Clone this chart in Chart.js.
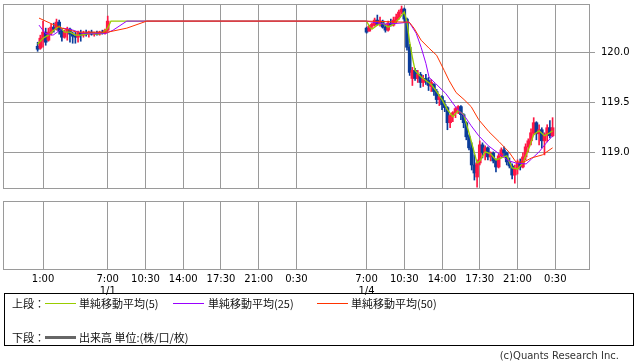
<!DOCTYPE html>
<html><head><meta charset="utf-8">
<script src="https://cdn.jsdelivr.net/npm/chart.js@4"></script>
<style>
html,body{margin:0;padding:0;background:#fff;width:638px;height:362px;overflow:hidden;position:relative;font-family:"DejaVu Sans",sans-serif;}
canvas{position:absolute;left:0;}
#c1{top:0;}
#c2{top:195px;}
#legend{position:absolute;left:4px;top:293px;width:630px;height:53px;border:1px solid #000;box-sizing:border-box;font-family:"Noto Sans CJK JP",sans-serif;font-size:11px;color:#111;}
#legend span{position:absolute;white-space:nowrap;line-height:14px;}
#legend i{position:absolute;display:block;}
#copy{position:absolute;right:19px;top:350px;font-family:"DejaVu Sans",sans-serif;font-size:10px;color:#333;}
</style></head>
<body>
<canvas id="c1" width="638" height="192"></canvas>
<canvas id="c2" width="638" height="110"></canvas>
<div id="legend">
  <span style="left:7px;top:2px">上段：</span>
  <i style="left:40px;top:9px;width:31px;height:1px;background:#99cc00"></i>
  <span style="left:74px;top:2px">単純移動平均(5)</span>
  <i style="left:168px;top:9px;width:31px;height:1px;background:#9900ff"></i>
  <span style="left:203px;top:2px">単純移動平均(25)</span>
  <i style="left:312px;top:9px;width:31px;height:1px;background:#ff3300"></i>
  <span style="left:346px;top:2px">単純移動平均(50)</span>
  <span style="left:7px;top:36px">下段：</span>
  <i style="left:40px;top:42px;width:31px;height:3px;background:#666"></i>
  <span style="left:74px;top:36px">出来高 単位:(株/口/枚)</span>
</div>
<div id="copy">(c)Quants Research Inc.</div>
<script>
// ---- tick data ----
const tickPos = [0, 6, 9.5, 13, 16.5, 20, 23.5, 30, 33.5, 37, 40.5, 44, 47.5];
const tickLabels = ["1:00", ["7:00","1/1"], "10:30", "14:00", "17:30", "21:00", "0:30", ["7:00","1/4"], "10:30", "14:00", "17:30", "21:00", "0:30"];
const priceTicks = [119.0, 119.5, 120.0];

// ---- 15-minute bars (time in hours from 1/1 1:00 on the compressed axis) ----
const barTime = [-0.5,-0.25,0,0.25,0.5,0.75,1,1.25,1.5,1.75,2,2.25,2.5,2.75,3,3.25,3.5,3.75,4,4.25,4.5,4.75,5,5.25,5.5,5.75,6,
  30,30.25,30.5,30.75,31,31.25,31.5,31.75,32,32.25,32.5,32.75,33,33.25,33.5,33.75,34,34.25,34.5,34.75,35,35.25,35.5,35.75,
  36,36.25,36.5,36.75,37,37.25,37.5,37.75,38,38.25,38.5,38.75,39,39.25,39.5,39.75,40,40.25,40.5,40.75,41,41.25,41.5,41.75,
  42,42.25,42.5,42.75,43,43.25,43.5,43.75,44,44.25,44.5,44.75,45,45.25,45.5,45.75,46,46.25,46.5,46.75,47,47.25];
const openP = [120.06,120.04,120.12,120.20,120.12,120.19,120.25,120.23,120.30,120.21,120.15,120.20,120.23,120.18,120.16,120.15,120.19,120.17,120.19,120.18,120.20,120.18,120.19,120.18,120.20,120.19,120.22,
  120.24,120.21,120.26,120.27,120.32,120.28,120.31,120.25,120.22,120.29,120.27,120.31,120.35,120.40,120.43,120.33,120.05,119.74,119.82,119.74,119.78,119.70,119.74,119.72,
  119.66,119.68,119.61,119.53,119.56,119.48,119.45,119.30,119.37,119.40,119.44,119.46,119.38,119.30,119.16,119.05,118.88,118.76,118.90,119.08,119.00,119.05,118.96,119.00,
  118.92,118.86,118.97,119.03,119.00,118.91,118.87,118.78,118.84,118.90,118.86,118.96,119.06,119.12,119.20,119.30,119.19,119.23,119.12,119.18,119.25,119.17];
const highP = [120.10,120.17,120.31,120.24,120.24,120.28,120.29,120.33,120.32,120.23,120.22,120.25,120.24,120.20,120.20,120.21,120.22,120.21,120.22,120.21,120.22,120.20,120.21,120.21,120.22,120.23,120.36,
  120.25,120.27,120.29,120.34,120.37,120.35,120.32,120.28,120.31,120.33,120.35,120.38,120.42,120.46,120.44,120.34,120.08,119.85,119.84,119.82,119.80,119.77,119.78,119.75,
  119.73,119.69,119.63,119.58,119.57,119.52,119.46,119.38,119.41,119.45,119.47,119.47,119.39,119.31,119.18,119.10,118.98,118.93,119.12,119.10,119.07,119.06,119.01,119.01,
  118.94,118.99,119.05,119.06,119.01,118.95,118.89,118.88,118.93,118.94,119.00,119.09,119.14,119.24,119.35,119.31,119.28,119.25,119.20,119.28,119.32,119.35];
const lowP = [120.01,120.03,120.05,120.07,120.11,120.17,120.20,120.22,120.18,120.11,120.14,120.12,120.10,120.09,120.09,120.10,120.11,120.15,120.16,120.15,120.17,120.16,120.17,120.17,120.18,120.18,120.21,
  120.19,120.21,120.24,120.26,120.27,120.26,120.24,120.20,120.21,120.26,120.26,120.29,120.33,120.38,120.30,120.02,119.77,119.67,119.72,119.70,119.65,119.66,119.68,119.62,
  119.61,119.57,119.49,119.47,119.43,119.41,119.23,119.25,119.31,119.35,119.39,119.33,119.25,119.13,119.03,118.83,118.73,118.66,118.88,118.95,118.93,118.93,118.92,118.90,
  118.81,118.85,118.95,118.97,118.88,118.85,118.74,118.70,118.79,118.83,118.85,118.93,119.01,119.08,119.18,119.13,119.08,119.05,118.98,119.11,119.15,119.16];
const closeP = [120.03,120.14,120.20,120.10,120.20,120.25,120.23,120.30,120.21,120.15,120.20,120.23,120.18,120.16,120.15,120.19,120.17,120.19,120.18,120.20,120.18,120.19,120.18,120.20,120.19,120.22,120.31,
  120.20,120.26,120.28,120.32,120.28,120.31,120.25,120.22,120.29,120.27,120.32,120.35,120.40,120.43,120.33,120.05,119.80,119.82,119.74,119.78,119.70,119.74,119.72,119.67,
  119.70,119.61,119.53,119.56,119.48,119.45,119.30,119.37,119.40,119.44,119.46,119.38,119.30,119.16,119.05,118.88,118.80,118.90,119.08,119.00,119.05,118.96,119.00,118.92,
  118.86,118.97,119.03,119.00,118.91,118.87,118.78,118.84,118.90,118.86,118.96,119.06,119.12,119.20,119.30,119.19,119.23,119.12,119.18,119.25,119.17,119.25];

// ---- moving averages ----
const ma5Time = [-0.5,0,0.5,1,1.5,2,2.5,3,3.5,4,4.5,5,5.5,6,6.3,30,30.3,30.5,31,31.5,32,32.5,33,33.5,33.75,34,34.25,34.5,35,35.5,36,36.5,37,37.5,38,38.5,39,39.5,40,40.25,40.5,41,41.5,42,42.5,43,43.5,44,44.5,45,45.5,46,46.5,47,47.25];
const ma5Val = [120.08,120.14,120.17,120.22,120.26,120.20,120.20,120.17,120.17,120.18,120.19,120.18,120.19,120.24,120.31,120.31,120.25,120.23,120.27,120.29,120.25,120.28,120.33,120.40,120.30,120.10,119.95,119.82,119.76,119.72,119.68,119.61,119.53,119.43,119.36,119.42,119.38,119.20,119.00,118.90,118.92,119.01,118.99,118.93,118.95,118.97,118.85,118.84,118.90,119.03,119.18,119.22,119.17,119.20,119.22];
const ma25Time = [-0.37,0.19,0.93,1.85,2.78,3.6,5.9,6.5,7.77,30,31.7,33.1,33.95,34.6,35.06,35.5,35.8,36.4,37.35,38.3,39.2,39.7,40.4,41.3,42.3,43.2,43.85,44.8,45.3,46,46.6,47.25];
const ma25Val = [120.27,120.19,120.17,120.24,120.22,120.19,120.19,120.22,120.31,120.31,120.28,120.29,120.30,120.19,120.05,119.89,119.75,119.69,119.59,119.45,119.35,119.27,119.17,119.07,118.99,118.92,118.90,118.89,118.94,119.01,119.09,119.17];
const ma50Time = [-0.37,0.65,1.76,3.15,6.0,7.77,9.62,30,33.5,33.95,34.4,35.06,35.8,36.5,37.2,37.65,38.3,39.04,39.7,40.4,41.35,42.3,43.2,43.85,44.6,45.3,46.3,47.25];
const ma50Val = [120.34,120.29,120.24,120.20,120.20,120.24,120.31,120.31,120.30,120.30,120.24,120.12,120.04,119.97,119.82,119.72,119.60,119.53,119.46,119.33,119.21,119.11,119.01,118.91,118.91,118.95,118.98,119.05];

const UP = '#ff1744', DOWN = '#0a3c9a', GRID = '#9a9a9a';
const X_MIN = -3.71, X_MAX = 50.72;

const zip = (xs, ys) => xs.map((x, i) => ({x, y: ys[i]}));
const barColors = barTime.map((_, i) => closeP[i] >= openP[i] ? UP : DOWN);

const frame = {
  id: 'frame',
  afterDraw(chart) {
    const a = chart.chartArea, c = chart.ctx;
    c.save(); c.strokeStyle = GRID; c.lineWidth = 1;
    c.strokeRect(Math.round(a.left) + 0.5, Math.round(a.top) + 0.5, Math.round(a.right - a.left) - 1, Math.round(a.bottom - a.top) - 1);
    c.restore();
  }
};
const noPad = s => { s.paddingTop = 0; s.paddingBottom = 0; s.paddingLeft = 0; s.paddingRight = 0; };

const xGridScale = (showLabels) => ({
  type: 'linear', min: X_MIN, max: X_MAX, offset: false,
  afterBuildTicks: s => { s.ticks = tickPos.map(v => ({value: v})); },
  ticks: {
    display: showLabels, autoSkip: false, maxRotation: 0, padding: 4,
    color: '#000', font: {family: 'DejaVu Sans', size: 10, lineHeight: 1.15},
    callback: (v, i) => tickLabels[i]
  },
  grid: {color: GRID, lineWidth: 1, drawTicks: false, offset: false},
  border: {display: false},
  afterFit: s => { s.height = showLabels ? 35 : 0; noPad(s); }
});

Chart.defaults.font.family = 'DejaVu Sans';

new Chart(document.getElementById('c1'), {
  type: 'bar',
  data: {
    datasets: [
      {type: 'line', data: zip(ma50Time, ma50Val), borderColor: '#ff3300', borderWidth: 1, pointRadius: 0, tension: 0, fill: false},
      {type: 'line', data: zip(ma25Time, ma25Val), borderColor: '#9900ff', borderWidth: 1, pointRadius: 0, tension: 0, fill: false},
      {type: 'line', data: zip(ma5Time, ma5Val), borderColor: '#99cc00', borderWidth: 1.3, pointRadius: 0, tension: 0, fill: false},
      {type: 'bar', data: barTime.map((t, i) => ({x: t, y: [openP[i], closeP[i]]})), backgroundColor: barColors, barThickness: 3, grouped: false, borderWidth: 0, minBarLength: 1},
      {type: 'bar', data: barTime.map((t, i) => ({x: t, y: [lowP[i], highP[i]]})), backgroundColor: barColors, barThickness: 1, grouped: false, borderWidth: 0}
    ]
  },
  options: {
    responsive: false, animation: false, devicePixelRatio: 1,
    layout: {padding: {left: 3, right: 0, top: 4, bottom: 3}},
    plugins: {legend: {display: false}, tooltip: {enabled: false}},
    scales: {
      x: xGridScale(false),
      y: {
        position: 'right', min: 118.641, max: 120.48,
        afterBuildTicks: s => { s.ticks = priceTicks.map(v => ({value: v})); },
        afterFit: s => { s.width = 48; noPad(s); },
        ticks: {color: '#000', padding: 6, font: {family: 'DejaVu Sans', size: 10}, callback: v => Number(v).toFixed(1)},
        grid: {color: GRID, lineWidth: 1, tickLength: 5},
        border: {display: false}
      }
    }
  },
  plugins: [frame]
});

new Chart(document.getElementById('c2'), {
  type: 'line',
  data: {datasets: [{data: [], borderWidth: 0, pointRadius: 0}]},
  options: {
    responsive: false, animation: false, devicePixelRatio: 1,
    layout: {padding: {left: 3, right: 0, top: 6, bottom: 0}},
    plugins: {legend: {display: false}, tooltip: {enabled: false}},
    scales: {
      x: xGridScale(true),
      y: {
        position: 'right', min: 0, max: 1,
        afterFit: s => { s.width = 48; noPad(s); },
        ticks: {display: false},
        grid: {display: false},
        border: {display: false}
      }
    }
  },
  plugins: [frame]
});
</script>
</body></html>
